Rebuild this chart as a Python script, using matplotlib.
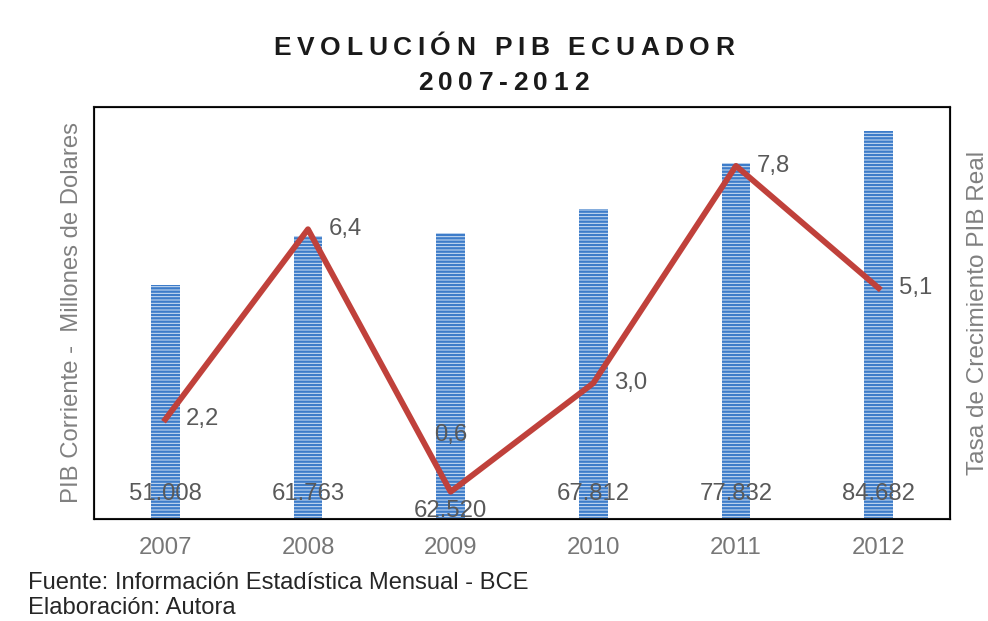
import matplotlib
matplotlib.use("Agg")
from matplotlib import pyplot as plt
import numpy as np

plt.rcParams['font.family'] = ['Liberation Sans', 'DejaVu Sans']
plt.rcParams['hatch.linewidth'] = 1.7

# datos
anios = ["2007", "2008", "2009", "2010", "2011", "2012"]
pib = [51008, 61763, 62520, 67812, 77832, 84682]  # millones de dolares
tasa = [2.2, 6.4, 0.6, 3.0, 7.8, 5.1]  # crecimiento PIB real
pib_txt = ["51.008", "61.763", "62.520", "67.812", "77.832", "84.682"]
tasa_txt = ["2,2", "6,4", "0,6", "3,0", "7,8", "5,1"]

fig = plt.figure(figsize=(9.88, 6.21), dpi=100)
ax = fig.add_axes([0.0951, 0.1643, 0.8664, 0.6634])
ax2 = ax.twinx()

x = np.arange(len(anios))
ax.bar(x, pib, width=0.2, color='#d3e2f4', edgecolor='#3d7cc9', hatch='-----', linewidth=0, zorder=2)
ax.set_xlim(-0.5, len(anios) - 0.5)
ax.set_ylim(0, 90000)
ax.set_xticks(x)
ax.set_xticklabels(anios, fontsize=17.3, color='#777777')
ax.tick_params(axis='x', length=0, pad=13)
ax.set_yticks([])
ax2.set_yticks([])
ax.set_ylabel("PIB Corriente -  Millones de Dolares", fontsize=17.2, color='#808080', labelpad=8)
ax2.set_ylabel("Tasa de Crecimiento PIB Real", fontsize=17.6, color='#808080', labelpad=12)
for sp in ax.spines.values():
    sp.set_linewidth(1.5)
    sp.set_color('#1a1a1a')

ax2.plot(x, tasa, color='#c0413b', linewidth=4.2, zorder=3)
ax2.set_ylim(0, 9.1)

# etiquetas de barras
for i, t in enumerate(pib_txt):
    off = 18 if i != 2 else 6
    ax.annotate(t, (x[i], 0), xytext=(0, off), textcoords='offset points',
                ha='center', va='center', fontsize=17.2, color='#595959', zorder=5)

# etiquetas de la linea
offs = [(15, 0), (15, 0), (0, 41), (15, 0), (15, 0), (15, 0)]
for i, t in enumerate(tasa_txt):
    ha = 'center' if i == 2 else 'left'
    ax2.annotate(t, (x[i], tasa[i]), xytext=offs[i], textcoords='offset points',
                 ha=ha, va='center', fontsize=17.2, color='#595959', zorder=5)

# titulo con espaciado entre letras
def spaced(text, cx, cy, size, gap):
    r = fig.canvas.get_renderer()
    ws = []
    for ch in text:
        if ch == ' ':
            a = fig.text(0, 0, 'a a', fontsize=size, fontweight='bold')
            b = fig.text(0, 0, 'aa', fontsize=size, fontweight='bold')
            w = a.get_window_extent(r).width - b.get_window_extent(r).width
            a.remove(); b.remove()
        else:
            tt = fig.text(0, 0, ch, fontsize=size, fontweight='bold')
            w = tt.get_window_extent(r).width
            tt.remove()
        ws.append(w)
    total = sum(ws) + gap * (len(text) - 1)
    W = fig.get_figwidth() * fig.dpi
    H = fig.get_figheight() * fig.dpi
    px = cx - total / 2
    for ch, w in zip(text, ws):
        fig.text(px / W, 1 - cy / H, ch, fontsize=size, fontweight='bold',
                 color='#1a1a1a', ha='left', va='center')
        px += w + gap

spaced("EVOLUCIÓN PIB ECUADOR", 504, 48, 19, 5.6)
spaced("2007-2012", 503, 83, 19, 5.6)

fig.text(28 / 988, 1 - 583 / 621, "Fuente: Información Estadística Mensual - BCE",
         fontsize=17.1, color='#262626', va='center')
fig.text(28 / 988, 1 - 608 / 621, "Elaboración: Autora",
         fontsize=17.1, color='#262626', va='center')

fig.savefig("out.png", dpi=100)
